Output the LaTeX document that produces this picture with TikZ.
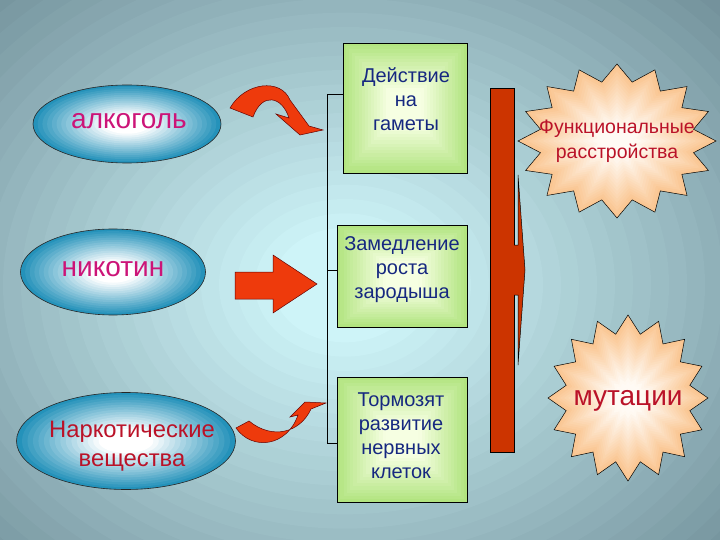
\documentclass[tikz,border=0pt]{standalone}
\usepackage{fontspec}
\setmainfont{Liberation Sans}
\usetikzlibrary{shapes.geometric}

\definecolor{bgdark}{RGB}{112,142,152}
\definecolor{bglight}{RGB}{206,244,248}
\definecolor{ovalteal}{RGB}{36,146,186}
\definecolor{boxgreen}{RGB}{178,228,128}
\definecolor{boxlight}{RGB}{246,255,226}
\definecolor{starpeach}{RGB}{250,198,146}
\definecolor{starlight}{RGB}{255,250,244}
\definecolor{magtext}{RGB}{204,20,120}
\definecolor{redtext}{RGB}{186,18,40}
\definecolor{bluetext}{RGB}{22,40,128}
\definecolor{arrowred}{RGB}{238,58,12}
\definecolor{barred}{RGB}{204,52,0}

\begin{document}
\begin{tikzpicture}[x=1pt,y=1pt,line width=0.6pt,
  oval/.style={ellipse,draw=black!85,inner sep=0pt},
  gbox/.style={rectangle,draw=black,inner sep=0pt,minimum width=124pt},
  boxtext/.style={align=center,text=bluetext,font=\fontsize{20}{24}\selectfont},
  burst/.style={draw=black,line width=0.5pt},
  redarrow/.style={draw=black!60!red,fill=arrowred,line width=0.5pt}]

\useasboundingbox (0,0) rectangle (720,-540);

% background
\begin{scope}
\clip (0,0) rectangle (720,-540);
\fill[bgdark] (0,0) rectangle (720,-540);
\foreach \t in {0,...,29} {
  \pgfmathsetmacro\s{1-\t/30}
  \pgfmathsetmacro\p{min(100,115*\t/30)}
  \fill[bglight!\p!bgdark] (345,-285) ellipse ({540*\s} and {430*\s});
}
\end{scope}

% glow of ovals
\foreach \cx/\cy/\rx/\ry in {127/124/94/39, 113/272/92.5/43, 126/441/109.5/48.5} {
  \foreach \t in {0,...,19} {
    \pgfmathsetmacro\s{1-\t/20}
    \pgfmathsetmacro\p{min(100,135*\t/20)}
    \fill[white!\p!ovalteal] (\cx,-\cy) ellipse ({\rx*\s} and {\ry*\s});
  }
}

% left ovals
\node[oval,minimum width=188pt,minimum height=78pt] (alc) at (127,-124) {};
\node[oval,minimum width=185pt,minimum height=86pt] (nic) at (113,-272) {};
\node[oval,minimum width=219pt,minimum height=97pt] (nar) at (126,-441) {};
\node[text=magtext,font=\fontsize{28}{30}\selectfont] (alct) at (129,-121) {алкоголь};
\node[text=magtext,font=\fontsize{28}{30}\selectfont] (nict) at (113,-269) {никотин};
\node[text=redtext,align=center,font=\fontsize{23.8}{29}\selectfont] (nart) at (132,-446) {Наркотические\\вещества};

% glow of boxes
\foreach \cx/\cy/\w/\h in {405/108/124/130, 402/276/130/102, 402/439.5/130/125} {
  \begin{scope}[shift={(\cx,-\cy)}]
  \foreach \t in {0,...,19} {
    \pgfmathsetmacro\s{1-\t/20}
    \pgfmathsetmacro\p{min(100,140*\t/20)}
    \fill[boxlight!\p!boxgreen] ({-\w/2*\s},{-\h/2*\s}) rectangle ({\w/2*\s},{\h/2*\s});
  }
  \end{scope}
}

% green boxes
\node[gbox,minimum height=130pt] (gam) at (405,-108) {};
\node[gbox,minimum height=102pt,minimum width=130pt] (zam) at (402,-276) {};
\node[gbox,minimum height=125pt,minimum width=130pt] (tor) at (402,-439.5) {};
\node[boxtext] (gamt) at (406,-99) {Действие\\на\\гаметы};
\node[boxtext] (zamt) at (402,-270) {Замедление\\роста\\зародыша};
\node[boxtext] (tort) at (401,-436) {Тормозят\\развитие\\нервных\\клеток};

% bracket
\coordinate (b1) at (327,-94);
\coordinate (b2) at (327,-270);
\coordinate (b3) at (327,-443);
\draw (gam.west |- b1) -- (b1) -- (b3) -- (tor.west |- b3);
\draw (b2) -- (zam.west |- b2);

% arrows
\draw[redarrow] (230,-108) .. controls (245,-82) and (281,-78) .. (290,-100) -- (309,-126) -- (323,-130) -- (300,-135) -- (276,-114) -- (289,-118) .. controls (282,-96) and (262,-92) .. (253,-117) -- cycle; %alc
\draw[redarrow] (235,-272) -- (273,-272) -- (273,-255) -- (317,-284) -- (273,-313) -- (273,-299) -- (235,-299) -- cycle; %nic
\draw[redarrow] (236,-428) .. controls (252,-451) and (287,-447) .. (298,-415) -- (290,-417) -- (305,-402) -- (326,-403) -- (311,-409) .. controls (300,-433) and (272,-440) .. (249,-421) -- cycle; %nar

% red bar
\draw[fill=barred,line width=0.5pt] (490,-88) rectangle (514,-452);
\draw[fill=barred,line width=0.5pt] (514,-245) -- (518,-245) -- (518,-175) -- (525,-270) -- (518,-365) -- (518,-295) -- (514,-295);

% stars
\foreach \cx/\cy/\rx/\ry/\ix/\iy in {617/141/99/77/78/60, 628/398/80/83/63/65} {
  \begin{scope}[shift={(\cx,-\cy)}]
  \foreach \t in {0,...,19} {
    \pgfmathsetmacro\s{1-\t/20}
    \pgfmathsetmacro\p{min(100,130*\t/20)}
    \fill[starlight!\p!starpeach,scale=\s] (90:{\rx} and {\ry}) \foreach \k [evaluate=\k as \a using 90+\k*11.25, evaluate=\k as \qx using {mod(\k,2)==0 ? \rx : \ix}, evaluate=\k as \qy using {mod(\k,2)==0 ? \ry : \iy}] in {1,...,31} { -- (\a:{\qx} and {\qy}) } -- cycle;
  }
  \draw[burst] (90:{\rx} and {\ry}) \foreach \k [evaluate=\k as \a using 90+\k*11.25, evaluate=\k as \qx using {mod(\k,2)==0 ? \rx : \ix}, evaluate=\k as \qy using {mod(\k,2)==0 ? \ry : \iy}] in {1,...,31} { -- (\a:{\qx} and {\qy}) } -- cycle;
  \end{scope}
}
\node[align=center,text=redtext,font=\fontsize{19.5}{25}\selectfont] (func) at (617,-141) {Функциональные\\расстройства};
\node[text=redtext,font=\fontsize{28}{32}\selectfont] (mut) at (628,-401) {мутации};

\end{tikzpicture}
\end{document}
